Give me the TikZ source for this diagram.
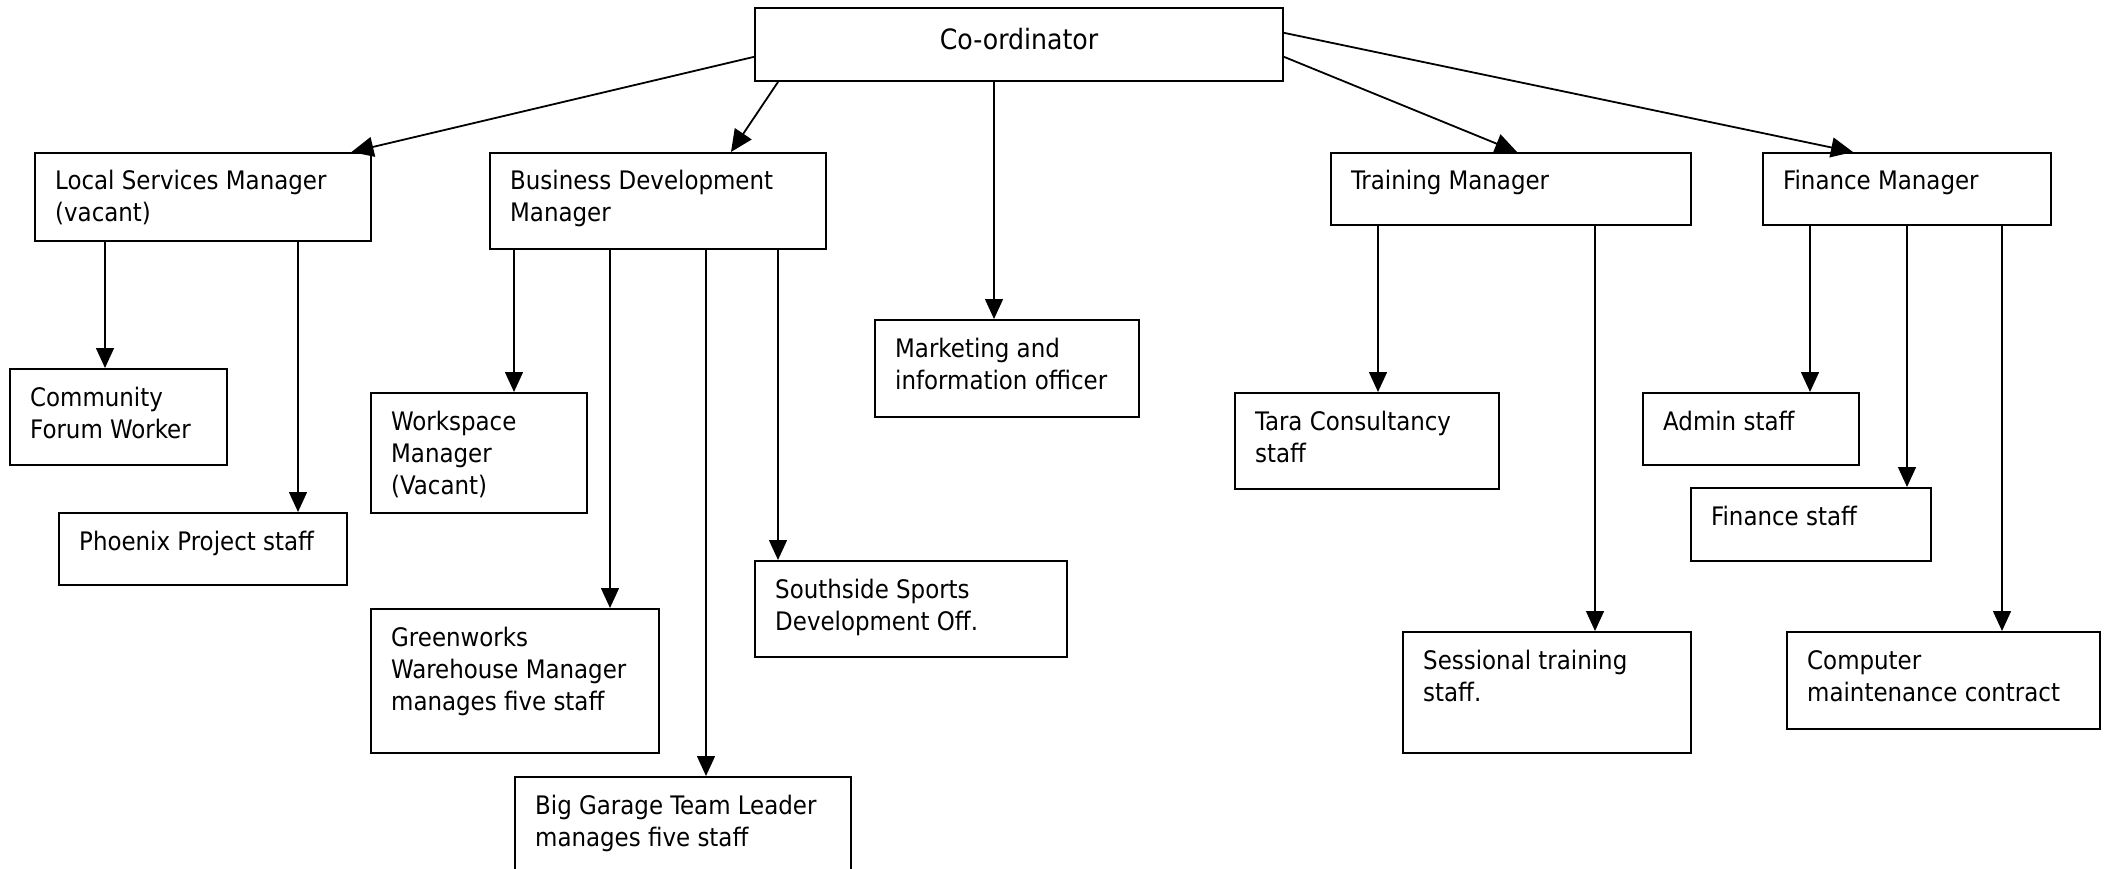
\documentclass[tikz,border=0pt]{standalone}
\usepackage{fontspec}
\IfFontExistsTF{DejaVu Sans Condensed}{\setmainfont{DejaVu Sans Condensed}}{\setmainfont{DejaVu Sans}[FakeStretch=0.9]}
\usetikzlibrary{arrows.meta}
\newcommand\orgbox[6]{%
  \node[box, minimum width={#4pt-#2pt}, minimum height={#5pt-#3pt}] (#1) at (#2,#3) {};
  \node[txt] (#1-t) at (#2+21,#3+38) {\parbox[t]{420pt}{#6}};
}
\newcommand\vlink[3]{%
  \draw[arr] ([xshift=#2pt]#1.south west) coordinate (tmp) -- (tmp |- #3.north);
}
\begin{document}
\begin{tikzpicture}[x=1pt,y=-1pt,
  box/.style={draw=black, line width=2pt, anchor=north west, inner sep=0pt, fill=white},
  txt/.style={anchor=base west, inner sep=0pt, font=\fontsize{25.5}{32}\selectfont},
  arr/.style={line width=1.5pt, -{Triangle[length=20pt,width=18pt]}},
  darr/.style={line width=1.8pt, -{Triangle[length=22pt,width=20pt]}}]
\useasboundingbox[fill=white] (0,0) rectangle (2107,869);

% top
\node[box, minimum width=528pt, minimum height=73pt] (coord) at (754,7) {};
\node[anchor=base, inner sep=0pt, font=\fontsize{28}{34}\selectfont] (coord-t) at ([yshift=-4.65pt]coord.center) {Co-ordinator};

% managers
\orgbox{lsm}{34}{152}{370}{240}{Local Services Manager\\(vacant)}
\orgbox{bdm}{489}{152}{825}{248}{Business Development\\Manager}
\orgbox{mkt}{874}{319}{1138}{416}{Marketing and\\information officer}
\orgbox{trn}{1330}{152}{1690}{224}{Training Manager}
\orgbox{fin}{1762}{152}{2050}{224}{Finance Manager}

% staff
\orgbox{cfw}{9}{368}{226}{464}{Community\\Forum Worker}
\orgbox{phx}{58}{512}{346}{584}{Phoenix Project staff}
\orgbox{wsm}{370}{392}{586}{512}{Workspace\\Manager\\(Vacant)}
\orgbox{gwm}{370}{608}{658}{752}{Greenworks\\Warehouse Manager\\manages five staff}
\orgbox{sss}{754}{560}{1066}{656}{Southside Sports\\Development Off.}
\orgbox{bgt}{514}{776}{850}{900}{Big Garage Team Leader\\manages five staff}
\orgbox{tara}{1234}{392}{1498}{488}{Tara Consultancy\\staff}
\orgbox{adm}{1642}{392}{1858}{464}{Admin staff}
\orgbox{fst}{1690}{487}{1930}{560}{Finance staff}
\orgbox{ses}{1402}{631}{1690}{752}{Sessional training\\staff.}
\orgbox{cmp}{1786}{631}{2099}{728}{Computer\\maintenance contract}

% diagonal links
\draw[darr] ([yshift=-12.35pt]coord.west) -- ([xshift=-20.5pt]lsm.north east);
\draw[darr] ([xshift=24pt]coord.south west) -- ([xshift=242pt]bdm.north west);
\draw[darr] ([yshift=-12.35pt]coord.east) -- ([xshift=187pt]trn.north west);
\draw[darr] ([yshift=11.65pt]coord.east) -- ([xshift=91pt]fin.north west);

% vertical links
\vlink{coord}{240}{mkt}
\vlink{lsm}{71}{cfw}
\vlink{lsm}{264}{phx}
\vlink{bdm}{25}{wsm}
\vlink{bdm}{121}{gwm}
\vlink{bdm}{217}{bgt}
\vlink{bdm}{289}{sss}
\vlink{trn}{48}{tara}
\vlink{trn}{265}{ses}
\vlink{fin}{48}{adm}
\vlink{fin}{145}{fst}
\vlink{fin}{240}{cmp}
\end{tikzpicture}
\end{document}
